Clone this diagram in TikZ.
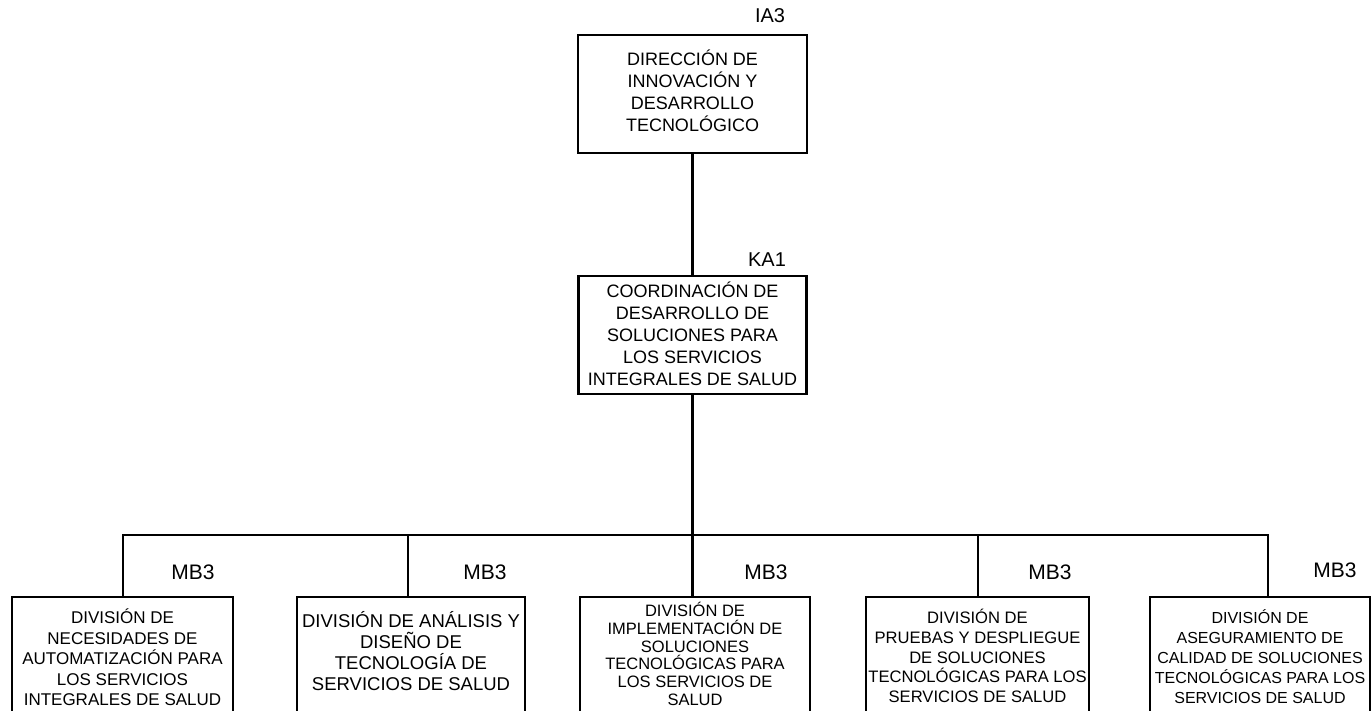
\documentclass[tikz,border=0pt]{standalone}
\usepackage{fontspec}
\setmainfont{Liberation Sans}
\begin{document}
\begin{tikzpicture}[x=1pt,y=-1pt,line width=2.5pt,
  box/.style={draw, rectangle, align=center, inner sep=0pt},
  lowbox/.style={box, minimum height=133pt},
  code/.style={inner sep=0pt, font=\fontsize{20}{24}\selectfont},
  mcode/.style={inner sep=0pt, font=\fontsize{21}{25}\selectfont}]
\useasboundingbox (0,0) rectangle (1372,711);
\clip (0,0) rectangle (1372,711);

% upper boxes
\node[box, minimum width=229pt, minimum height=118pt, font=\fontsize{18}{22}\selectfont] (dir) at (692.5,94)
  {DIRECCIÓN DE\\INNOVACIÓN Y\\DESARROLLO\\TECNOLÓGICO\rule[-6pt]{0pt}{0pt}};
\node[box, minimum width=228pt, minimum height=118pt, font=\fontsize{18}{22}\selectfont] (coord) at (692.5,335)
  {COORDINACIÓN DE\\DESARROLLO DE\\SOLUCIONES PARA\\LOS SERVICIOS\\INTEGRALES DE SALUD\rule[-2pt]{0pt}{0pt}};

% lower boxes (top edge at 597, bottom edge below the picture)
\node[lowbox, minimum width=221pt, font=\fontsize{17}{20.4}\selectfont] (n1) at (122.5,663.5)
  {DIVISIÓN DE\\NECESIDADES DE\\AUTOMATIZACIÓN PARA\\LOS SERVICIOS\\INTEGRALES DE SALUD\rule[-12.3pt]{0pt}{0pt}};
\node[lowbox, minimum width=228pt, font=\fontsize{18.5}{21}\selectfont] (n2) at (411,663.5)
  {DIVISIÓN DE ANÁLISIS Y\\DISEÑO DE\\TECNOLOGÍA DE\\SERVICIOS DE SALUD\rule[-25pt]{0pt}{0pt}};
\node[lowbox, minimum width=230pt, font=\fontsize{16.5}{17.8}\selectfont] (n3) at (695,663.5)
  {DIVISIÓN DE\\IMPLEMENTACIÓN DE\\SOLUCIONES\\TECNOLÓGICAS PARA\\LOS SERVICIOS DE\\SALUD\rule[-19.2pt]{0pt}{0pt}};
\node[lowbox, minimum width=223pt, font=\fontsize{16.6}{19.75}\selectfont] (n4) at (977.5,663.5)
  {DIVISIÓN DE\\PRUEBAS Y DESPLIEGUE\\DE SOLUCIONES\\TECNOLÓGICAS PARA LOS\\SERVICIOS DE SALUD\rule[-15pt]{0pt}{0pt}};
\node[lowbox, minimum width=220pt, font=\fontsize{16}{20}\selectfont] (n5) at (1260,663.5)
  {DIVISIÓN DE\\ASEGURAMIENTO DE\\CALIDAD DE SOLUCIONES\\TECNOLÓGICAS PARA LOS\\SERVICIOS DE SALUD\rule[-14.4pt]{0pt}{0pt}};

% codes
\node[code] (ia3) at (770,16) {IA3};
\node[code] (ka1) at (767,260) {KA1};
\node[mcode] (m1) at (193,572) {MB3};
\node[mcode] (m2) at (485,572) {MB3};
\node[mcode] (m3) at (766,572) {MB3};
\node[mcode] (m4) at (1050,572) {MB3};
\node[mcode] (m5) at (1335,570) {MB3};

% connectors
\coordinate (d1) at (123,535);
\coordinate (d2) at (408,535);
\coordinate (d3) at (692.5,535);
\coordinate (d4) at (978,535);
\coordinate (d5) at (1268,535);
\draw (dir.south) -- (coord.north);
\draw (coord.south) -- (d3);
\draw (d1 |- n1.north) -- (d1) -- (d5) -- (d5 |- n5.north);
\draw (d2) -- (d2 |- n2.north);
\draw (d3) -- (d3 |- n3.north);
\draw (d4) -- (d4 |- n4.north);
\end{tikzpicture}
\end{document}
